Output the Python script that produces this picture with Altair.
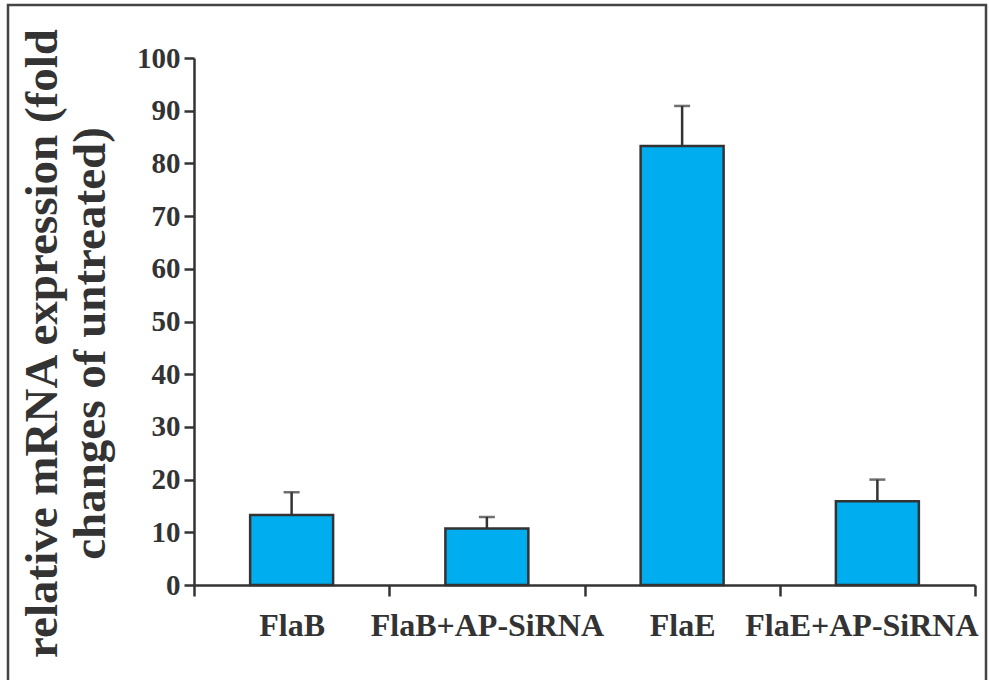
import altair as alt
import pandas as pd

# ---- data ----
categories = ["FlaB", "FlaB+AP-SiRNA", "FlaE", "FlaE+AP-SiRNA"]
means = [13.3, 10.7, 83.3, 15.9]
errors = [4.3, 2.2, 7.6, 4.1]
slots = [0, 1, 2, 3]
y_ticks = [0, 10, 20, 30, 40, 50, 60, 70, 80, 90, 100]

df = pd.DataFrame({"category": categories, "slot": slots, "mean": means, "err": errors})

INK = "#333333"
BAR = "#00AEEF"
FONT = "Liberation Serif"

label_array = "[" + ",".join("'" + c + "'" for c in categories) + "]"
x_tick_values = [i * 0.5 for i in range(9)]

x_scale = alt.Scale(domain=[0, 4], nice=False, zero=False)
y_scale = alt.Scale(domain=[0, 100], nice=False)

x_axis = alt.Axis(
    values=x_tick_values,
    labelExpr=f"datum.value % 1 != 0 ? {label_array}[floor(datum.value)] : ''",
    tickSize=11,
    tickOpacity={"condition": {"test": "datum.value % 1 != 0", "value": 0}, "value": 1},
    labelOffset={"condition": {"test": "datum.value == 3.5", "value": -16}, "value": 0},
    labelFontSize=32,
    labelPadding=14,
    labelLimit=1000,
    labelFlush=False,
    labelOverlap=False,
    labelBound=False,
    grid=False,
    title=None,
)

y_axis = alt.Axis(
    values=y_ticks,
    tickSize=10,
    labelFontSize=29,
    labelPadding=4,
    grid=False,
    title=["relative mRNA expression (fold", "changes of untreated)"],
    titleFont=FONT,
    titleFontSize=47,
    titleFontWeight="bold",
    titleColor=INK,
    titleAngle=-90,
    titleX=-138,
    titleY=285,
    titleAlign="center",
    titleBaseline="alphabetic",
    titleLineHeight=48,
)

base = alt.Chart(df).transform_calculate(
    left="datum.slot + 0.2875",
    right="datum.slot + 0.7125",
    center="datum.slot + 0.5",
    upper="datum.mean + datum.err",
)

bars = base.mark_bar(color=BAR, stroke=INK, strokeWidth=2.5).encode(
    x=alt.X("left:Q", scale=x_scale, axis=x_axis),
    x2="right:Q",
    y=alt.Y("mean:Q", scale=y_scale, axis=y_axis),
    y2=alt.datum(0),
)

stems = base.mark_rule(color=INK, strokeWidth=2.5).encode(
    x=alt.X("center:Q", scale=x_scale),
    y=alt.Y("mean:Q", scale=y_scale),
    y2="upper:Q",
)

caps = base.mark_tick(orient="horizontal", color=INK, size=16, thickness=2.5).encode(
    x=alt.X("center:Q", scale=x_scale),
    y=alt.Y("upper:Q", scale=y_scale),
)

frame = alt.Chart(pd.DataFrame({"k": [0]})).mark_rect(
    fill=None, stroke="#444444", strokeWidth=2.5
).encode(
    x=alt.value(-186), x2=alt.value(792), y=alt.value(-53), y2=alt.value(640)
)

chart = (
    alt.layer(frame, bars, stems, caps)
    .properties(
        width=781,
        height=527,
        background="white",
        autosize=alt.AutoSizeParams(type="none"),
        padding={"left": 194, "top": 58, "right": 14, "bottom": 95},
    )
    .configure_view(stroke=None)
    .configure_axis(
        domainColor=INK,
        domainWidth=2.5,
        tickColor=INK,
        tickWidth=2.5,
        labelFont=FONT,
        labelFontWeight="bold",
        labelColor=INK,
    )
)

chart.save("out.html", embed_options={"renderer": "svg", "actions": False})
